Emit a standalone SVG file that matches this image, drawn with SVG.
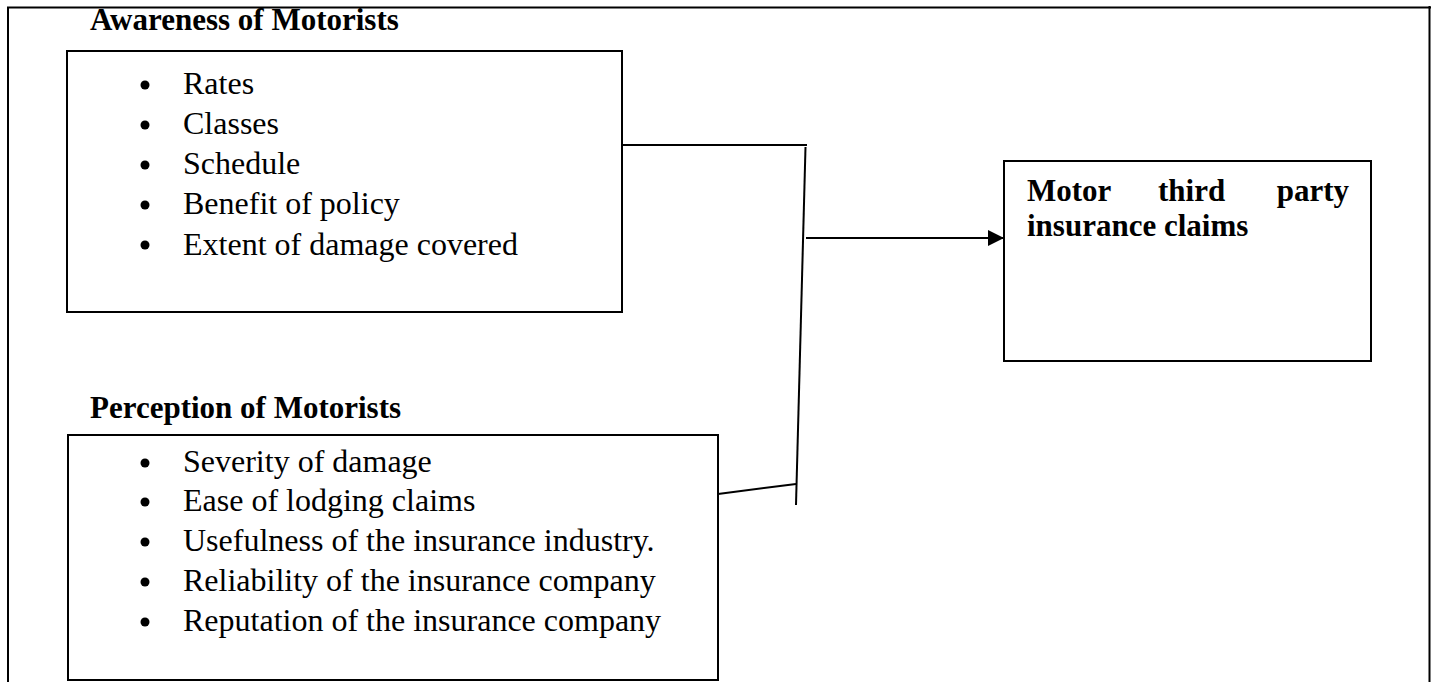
<svg xmlns="http://www.w3.org/2000/svg" width="1435" height="682" viewBox="0 0 1435 682">
<style>
.t{font-family:"Liberation Serif","Times New Roman",serif;font-size:32px;fill:#000}
.b{font-weight:bold;font-size:31px}
.box{fill:#fff;stroke:#000;stroke-width:2}
.ln{stroke:#000;stroke-width:2;fill:none}
</style>
<defs>
<marker id="ah" markerWidth="16" markerHeight="16" refX="15" refY="8" orient="auto" markerUnits="userSpaceOnUse">
<path d="M0,0 L16,8 L0,16 Z" fill="#000"/>
</marker>
</defs>
<rect width="1435" height="682" fill="#fff"/>
<g id="frame">
<path class="ln" d="M7,7.5 H1431 M8,7.5 V682 M1429.5,6 V682"/>
</g>
<g id="awareness">
<text class="t b" x="90" y="30">Awareness of Motorists</text>
<rect class="box" x="67" y="51" width="555" height="261"/>
<g fill="#000">
<circle cx="145" cy="85" r="4.5"/><circle cx="145" cy="125" r="4.5"/><circle cx="145" cy="165" r="4.5"/><circle cx="145" cy="205" r="4.5"/><circle cx="145" cy="245" r="4.5"/>
</g>
<text class="t" x="183" y="94">Rates</text>
<text class="t" x="183" y="134">Classes</text>
<text class="t" x="183" y="174">Schedule</text>
<text class="t" x="183" y="214">Benefit of policy</text>
<text class="t" x="183" y="255">Extent of damage covered</text>
</g>
<g id="perception">
<text class="t b" x="90" y="418">Perception of Motorists</text>
<rect class="box" x="68" y="435" width="650" height="245"/>
<g fill="#000">
<circle cx="145" cy="463" r="4.5"/><circle cx="145" cy="502" r="4.5"/><circle cx="145" cy="542" r="4.5"/><circle cx="145" cy="582" r="4.5"/><circle cx="145" cy="622" r="4.5"/>
</g>
<text class="t" x="183" y="472">Severity of damage</text>
<text class="t" x="183" y="511">Ease of lodging claims</text>
<text class="t" x="183" y="551">Usefulness of the insurance industry.</text>
<text class="t" x="183" y="591">Reliability of the insurance company</text>
<text class="t" x="183" y="631">Reputation of the insurance company</text>
</g>
<g id="claims">
<rect class="box" x="1004" y="161" width="367" height="200"/>
<text class="t b" x="1027" y="201">Motor</text>
<text class="t b" x="1158" y="201">third</text>
<text class="t b" x="1349" y="201" text-anchor="end">party</text>
<text class="t b" x="1027" y="236">insurance claims</text>
</g>
<g id="connectors">
<path class="ln" d="M622,145 H807"/>
<path class="ln" d="M805.5,147 L796,505"/>
<path class="ln" d="M718,494 L796,484"/>
<path class="ln" d="M806,238 H1003" marker-end="url(#ah)"/>
</g>
</svg>
